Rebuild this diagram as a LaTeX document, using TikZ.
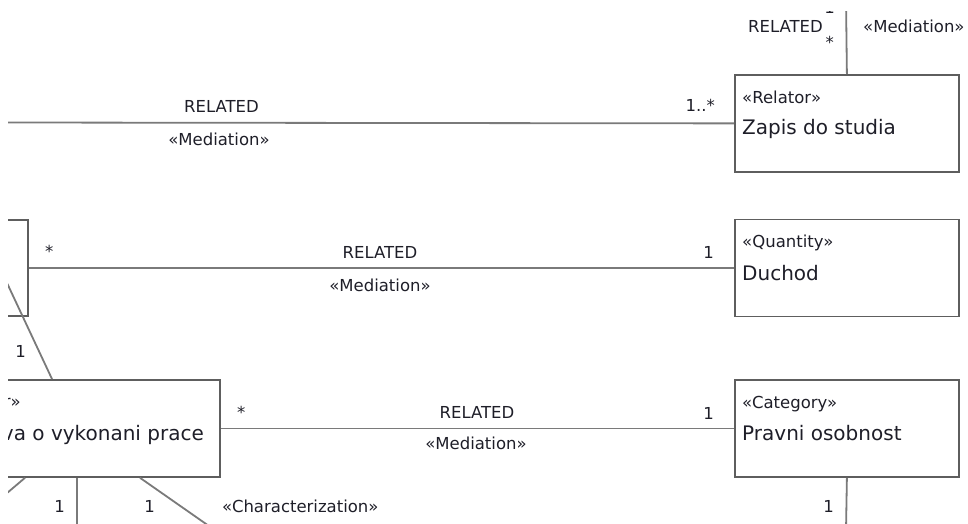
\documentclass[tikz,border=0pt]{standalone}
\usepackage{fontspec}
\setmainfont{DejaVu Sans}
\definecolor{linec}{HTML}{7A7A7A}
\definecolor{boxc}{HTML}{5E5E5E}
\definecolor{txt}{HTML}{1E1E28}
\tikzset{
  umlbox/.style={draw=boxc, line width=1.8pt, minimum width=224pt, minimum height=97pt, inner sep=0pt},
  conn/.style={draw=linec, line width=1.8pt},
  lab/.style={text=txt, inner sep=0pt, font=\fontsize{16.5}{19}\selectfont},
  stereo/.style={lab, anchor=base west},
  nm/.style={text=txt, inner sep=0pt, font=\fontsize{20}{24}\selectfont},
}
\begin{document}
\begin{tikzpicture}[x=1pt,y=-1pt]
\useasboundingbox (0,0) rectangle (968,524);
\begin{scope}
\clip (8,12) rectangle (968,524);
% boxes
\node[umlbox, anchor=north west] (zapis) at (734,74) {};
\node[umlbox, anchor=north west] (duchod) at (734,218.5) {};
\node[umlbox, anchor=north west] (category) at (734,379) {};
\node[umlbox, minimum height=96pt, anchor=north east] (leftbox) at (29,219) {};
\node[umlbox, anchor=north east] (smlouva) at (221,379) {};
% free ends
\coordinate (t1) at (846,0);
\coordinate (br) at (846,530);
\coordinate (l1) at (0,122.5);
\coordinate (d1) at (-8,251);
\coordinate (b1) at (-20,516);
\coordinate (b2) at (77,530);
\coordinate (b3) at (219,533);
% connectors
\draw[conn] (zapis.north) -- (t1);
\draw[conn] (l1) -- (zapis.west);
\draw[conn] (leftbox.east) -- (duchod.west);
\draw[conn] (smlouva.east) -- (category.west);
\draw[conn] (category.south) -- (br);
\draw[conn] (d1) -- ([xshift=-169pt]smlouva.north east);
\draw[conn] ([xshift=-196pt]smlouva.south east) -- (b1);
\draw[conn] ([xshift=-144pt]smlouva.south east) -- (b2);
\draw[conn] ([xshift=-81pt]smlouva.south east) -- (b3);
% top association labels
\node[lab, anchor=base east] (tr) at (823,33) {RELATED};
\node[lab, anchor=base west] (tm) at (863,33) {«Mediation»};
\node[lab, anchor=base east] (t1m) at (835,14) {1};
\node[lab, anchor=base east] (t2m) at (834,49) {*};
% line 1
\node[lab, anchor=base] (r1) at (221.5,113) {RELATED};
\node[lab, anchor=base] (m1) at (219,146) {«Mediation»};
\node[lab, anchor=base east] (c1) at (715,112) {1..*};
% line 2
\node[lab, anchor=base west] (s2) at (45,257) {*};
\node[lab, anchor=base] (r2) at (380,258) {RELATED};
\node[lab, anchor=base] (m2) at (380,291) {«Mediation»};
\node[lab, anchor=base east] (c2) at (714,258) {1};
% line 3
\node[lab, anchor=base west] (s3) at (237,418) {*};
\node[lab, anchor=base] (r3) at (477,418) {RELATED};
\node[lab, anchor=base] (m3) at (476,449) {«Mediation»};
\node[lab, anchor=base east] (c3) at (714,419) {1};
% box texts
\node[stereo] (zs) at (742,103) {«Relator»};
\node[nm, anchor=base west] (zn) at (742,134) {Zapis do studia};
\node[stereo] (ds) at (742,247) {«Quantity»};
\node[nm, anchor=base west] (dn) at (742,280) {Duchod};
\node[stereo] (cs) at (742,408) {«Category»};
\node[nm, anchor=base west] (cn) at (742,440) {Pravni osobnost};
\node[lab, anchor=base east] (ss) at (21,407) {r»};
\node[nm, anchor=base east] (sn) at (204,440) {va o vykonani prace};
% bottom labels
\node[lab, anchor=base east] (u1) at (26,357) {1};
\node[lab, anchor=base east] (u2) at (65,512) {1};
\node[lab, anchor=base east] (u3) at (155,512) {1};
\node[lab, anchor=base west] (u4) at (222,512) {«Characterization»};
\node[lab, anchor=base east] (u5) at (834,512) {1};
\end{scope}
\end{tikzpicture}
\end{document}
